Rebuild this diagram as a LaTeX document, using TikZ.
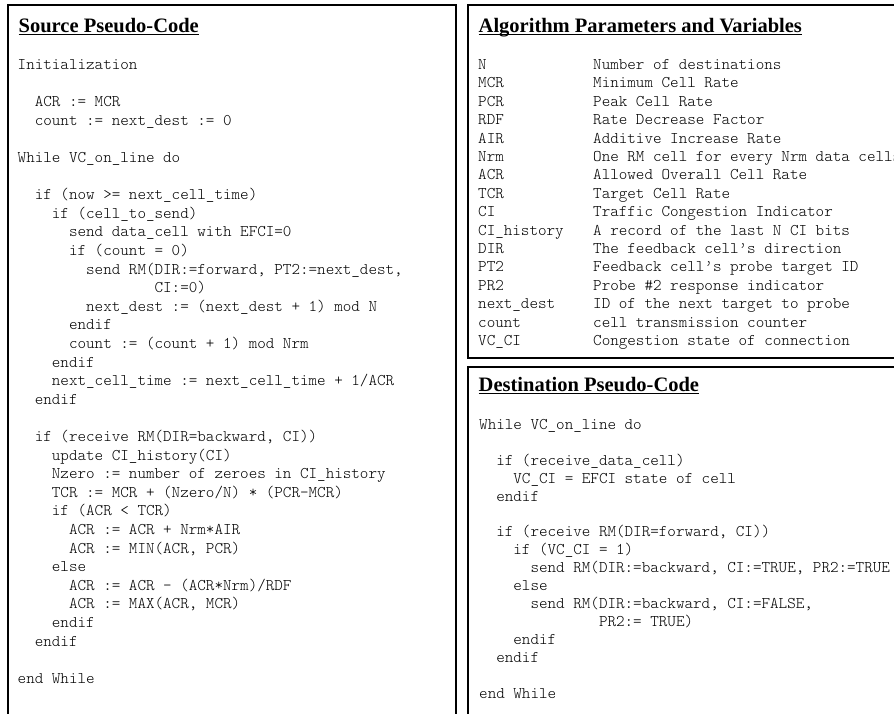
\documentclass[tikz,border=0pt]{standalone}
\usepackage{fontspec}
\setmainfont{Liberation Serif}
\setmonofont{Latin Modern Mono Light}
\usepackage{tikz}
\usetikzlibrary{calc}
\usetikzlibrary{positioning}

% indent by a number of monospaced characters
\newcommand{\ind}[1]{\hspace*{#1\fontcharwd\font`\M}}
\newcommand{\codefont}[1]{\ttfamily\fontsize{16.3}{#1}\selectfont\frenchspacing}

\begin{document}
\begin{tikzpicture}[x=1pt, y=-1pt]

        \tikzset{
            boxline/.style={line width=1.6pt},
            head/.style={anchor=base west, inner sep=0pt,
                font=\fontsize{20.5}{24}\selectfont\bfseries},
            code/.style={anchor=base west, inner sep=0pt},
            uline/.style={line width=1.2pt}
        }

        \useasboundingbox (0, 0) rectangle (894, 713);
        \clip (0, 0) rectangle (894, 713);

        % The three panels, two of them run off the page
        \begin{scope}[boxline]
            \draw (8, 5) rectangle (456, 730);
            \draw (468, 5) rectangle (910, 358);
            \draw (468, 367) rectangle (910, 730);
        \end{scope}

        \node[head] (titleS) at (18.5, 32) {Source Pseudo-Code};
        \node[head] (titleP) at (478.5, 32) {Algorithm Parameters and Variables};
        \node[head] (titleD) at (478.5, 391) {Destination Pseudo-Code};

        \foreach \t in {titleS, titleP, titleD}
            \draw[uline] ([yshift=-2.3pt]\t.base west) -- ([yshift=-2.3pt]\t.base east);

        \node[code, font={\codefont{18.6}}] (codeS) at (17.5, 69.5) {%
            \begin{tabular}[t]{@{}l@{}}
            Initialization\\
            \\
            \ind{2}ACR := MCR\\
            \ind{2}count := next\_dest := 0\\
            \\
            While VC\_on\_line do\\
            \\
            \ind{2}if (now >= next\_cell\_time)\\
            \ind{4}if (cell\_to\_send)\\
            \ind{6}send data\_cell with EFCI=0\\
            \ind{6}if (count = 0)\\
            \ind{8}send RM(DIR:=forward, PT2:=next\_dest,\\
            \ind{16}CI:=0)\\
            \ind{8}next\_dest := (next\_dest + 1) mod N\\
            \ind{6}endif\\
            \ind{6}count := (count + 1) mod Nrm\\
            \ind{4}endif\\
            \ind{4}next\_cell\_time := next\_cell\_time + 1/ACR\\
            \ind{2}endif\\
            \\
            \ind{2}if (receive RM(DIR=backward, CI))\\
            \ind{4}update CI\_history(CI)\\
            \ind{4}Nzero := number of zeroes in CI\_history\\
            \ind{4}TCR := MCR + (Nzero/N) * (PCR-MCR)\\
            \ind{4}if (ACR < TCR)\\
            \ind{6}ACR := ACR + Nrm*AIR\\
            \ind{6}ACR := MIN(ACR, PCR)\\
            \ind{4}else\\
            \ind{6}ACR := ACR - (ACR*Nrm)/RDF\\
            \ind{6}ACR := MAX(ACR, MCR)\\
            \ind{4}endif\\
            \ind{2}endif\\
            \\
            end While
            \end{tabular}};

        \node[code, font={\codefont{18.4}}] (tableP) at (478, 69.5) {%
            \begin{tabular}[t]{@{}p{115pt}@{}l@{}}
            N & Number of destinations\\
            MCR & Minimum Cell Rate\\
            PCR & Peak Cell Rate\\
            RDF & Rate Decrease Factor\\
            AIR & Additive Increase Rate\\
            Nrm & One RM cell for every Nrm data cells\\
            ACR & Allowed Overall Cell Rate\\
            TCR & Target Cell Rate\\
            CI & Traffic Congestion Indicator\\
            CI\_history & A record of the last N CI bits\\
            DIR & The feedback cell’s direction\\
            PT2 & Feedback cell’s probe target ID\\
            PR2 & Probe \#2 response indicator\\
            next\_dest & ID of the next target to probe\\
            count & cell transmission counter\\
            VC\_CI & Congestion state of connection
            \end{tabular}};

        \node[code, font={\codefont{17.9}}] (codeD) at (479, 429.5) {%
            \begin{tabular}[t]{@{}l@{}}
            While VC\_on\_line do\\
            \\
            \ind{2}if (receive\_data\_cell)\\
            \ind{4}VC\_CI = EFCI state of cell\\
            \ind{2}endif\\
            \\
            \ind{2}if (receive RM(DIR=forward, CI))\\
            \ind{4}if (VC\_CI = 1)\\
            \ind{6}send RM(DIR:=backward, CI:=TRUE, PR2:=TRUE\\
            \ind{4}else\\
            \ind{6}send RM(DIR:=backward, CI:=FALSE,\\
            \ind{14}PR2:= TRUE)\\
            \ind{4}endif\\
            \ind{2}endif\\
            \\
            end While
            \end{tabular}};

\end{tikzpicture}
\end{document}
